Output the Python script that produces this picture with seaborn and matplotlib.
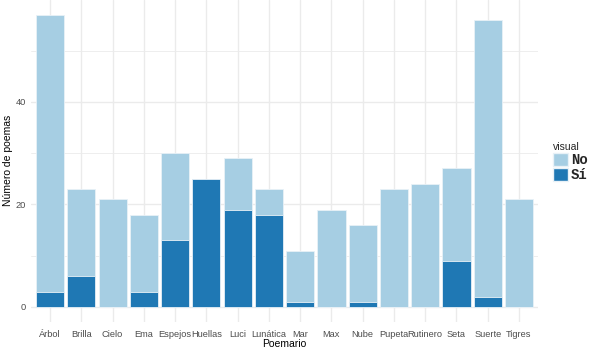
import pandas as pd
import matplotlib.pyplot as plt
import seaborn as sns
from matplotlib.patches import Patch
from matplotlib.ticker import MultipleLocator

poemarios = ['Árbol', 'Brilla', 'Cielo', 'Ema', 'Espejos', 'Huellas', 'Luci', 'Lunática',
             'Mar', 'Max', 'Nube', 'Pupeta', 'Rutinero', 'Seta', 'Suerte', 'Tigres']
no_visual = [54, 17, 21, 15, 17, 0, 10, 5, 10, 19, 15, 23, 24, 18, 54, 21]
si_visual = [3, 6, 0, 3, 13, 25, 19, 18, 1, 0, 1, 0, 0, 9, 2, 0]

df = pd.DataFrame({'Poemario': poemarios, 'No': no_visual, 'Sí': si_visual})
df['Total'] = df['No'] + df['Sí']

sns.set_style('white')
plt.rcParams['font.family'] = ['Liberation Sans', 'DejaVu Sans']

col_no = '#A6CEE3'
col_si = '#1F78B4'

fig = plt.figure(figsize=(5.89, 3.53), dpi=100)
ax = fig.add_axes([0.0532, 0.089, 0.8598, 0.911])

sns.barplot(x='Poemario', y='Total', data=df, color=col_no, width=0.9,
            edgecolor='#E8F1F7', linewidth=0.6, saturation=1, ax=ax, zorder=3)
sns.barplot(x='Poemario', y='Sí', data=df, color=col_si, width=0.9,
            edgecolor='#E8F1F7', linewidth=0.6, saturation=1, ax=ax, zorder=3)

ax.set_xlim(-0.6, 15.6)
ax.set_ylim(-2.85, 59.85)
ax.yaxis.set_major_locator(MultipleLocator(20))
ax.yaxis.set_minor_locator(MultipleLocator(10))
ax.grid(True, which='major', color='#EBEBEB', linewidth=1.0, zorder=0)
ax.grid(True, which='minor', axis='y', color='#EBEBEB', linewidth=0.6, zorder=0)
ax.set_axisbelow(True)
for s in ax.spines.values():
    s.set_visible(False)

ax.tick_params(axis='both', which='both', length=0, labelsize=6.7, labelcolor='#4D4D4D')
ax.tick_params(axis='x', pad=6)
ax.tick_params(axis='y', pad=4)
ax.set_xlabel('Poemario', fontsize=7.5, color='black', labelpad=0)
ax.set_ylabel('Número de poemas', fontsize=7.5, color='black', labelpad=2)

handles = [Patch(facecolor=col_no, edgecolor='#E8F1F7', label='No'),
           Patch(facecolor=col_si, edgecolor='#E8F1F7', label='Sí')]
leg = fig.legend(handles=handles, title='visual', loc='upper left',
                 bbox_to_anchor=(0.939, 0.598), frameon=False,
                 prop={'family': 'Liberation Mono', 'weight': 'bold', 'size': 10},
                 handlelength=1.1, handleheight=1.1, handletextpad=0.2,
                 labelspacing=0.05, borderaxespad=0, borderpad=0)
leg.get_title().set_fontsize(7.5)
leg.get_title().set_ha('left')
leg._legend_box.align = 'left'

fig.savefig('out.png', dpi=100)
